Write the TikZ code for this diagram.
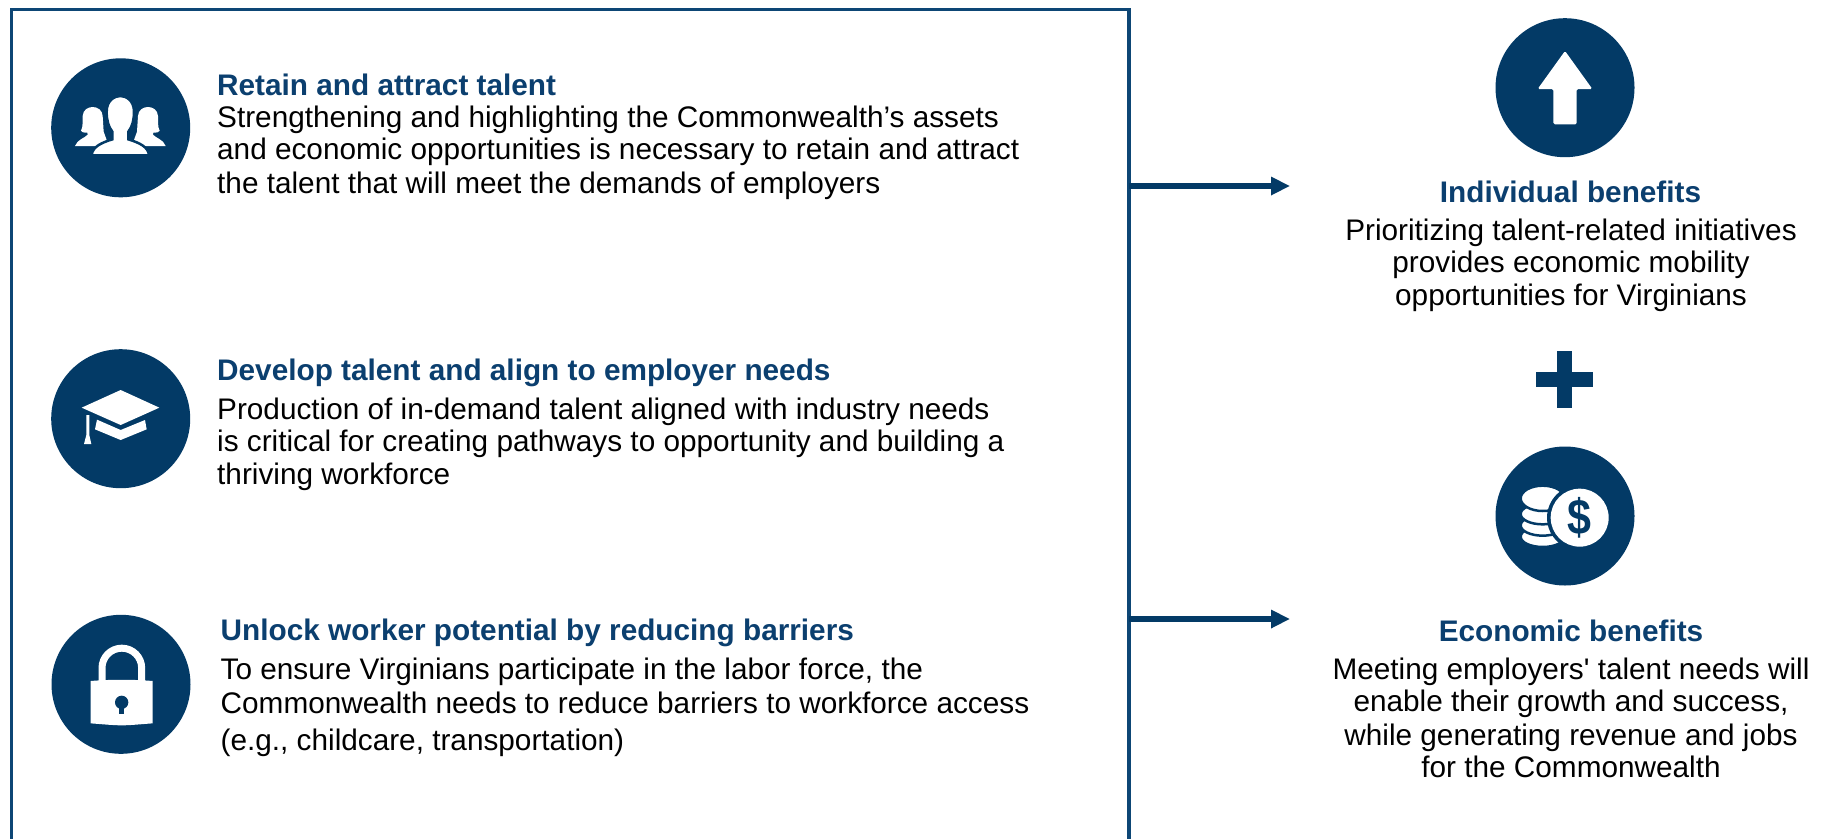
\documentclass[tikz,border=0pt]{standalone}
\usepackage{fontspec}
\newfontfamily\txt{Liberation Sans}
\definecolor{navy}{HTML}{033A66}
\definecolor{framec}{HTML}{0D4675}
\definecolor{titlec}{HTML}{0B3F6F}
\tikzset{
  x=1pt,y=-1pt,
  ic/.style={x=.33333pt,y=-.33333pt},
  disc/.style={circle,fill=navy,minimum size=139pt,inner sep=0pt},
  head/.style={anchor=base west,inner sep=0pt,font=\txt\fontsize{29.75}{33}\selectfont\bfseries,text=titlec},
  body/.style={anchor=base west,inner sep=0pt,align=left,font=\txt\fontsize{29.75}{33}\selectfont,text=black},
  headc/.style={anchor=base,inner sep=0pt,font=\txt\fontsize{29.75}{33}\selectfont\bfseries,text=titlec},
  bodyc/.style={anchor=base,inner sep=0pt,align=center,font=\txt\fontsize{29.75}{33}\selectfont,text=black},
  wire/.style={draw=navy,line width=5.5pt},
  tip/.style={fill=navy},
}
\begin{document}
\begin{tikzpicture}
\path[use as bounding box,clip] (0,0) rectangle (1827,838);
\fill[white] (0,0) rectangle (1827,838);
\node[draw=framec,line width=3.5pt,outer sep=0pt,anchor=north west,minimum width=1117.5pt,minimum height=900pt,inner sep=0pt] (frame) at (11.7,9.3) {};
\node[disc] (d1) at (120.7,127.8) {};
\node[disc] (d2) at (120.7,418.7) {};
\node[disc] (d3) at (121,684.3) {};
\node[disc] (d4) at (1565,87.7) {};
\node[disc] (d5) at (1565,516) {};
% people
\begin{scope}[ic]
\foreach \m/\o in {1/0,-1/722}{
 \begin{scope}[shift={(\o,0)},xscale=\m]
 \fill[white] (225,438) .. controls (232,418) and (255,414) .. (263,404) -- (262,398) .. controls (250,398) and (243,396) .. (243,392) .. controls (250,380) and (247,362) .. (248,348) .. controls (250,312) and (306,312) .. (308,348) -- (311,395) -- (320,420) -- (310,438) -- cycle;
 \end{scope}}
\fill[white,draw=navy,line width=2.5pt] (275,466) .. controls (277,440) and (305,428) .. (337,418) -- (337,395) .. controls (325,380) and (320,360) .. (320,335) .. controls (320,300) and (345,288) .. (361,288) .. controls (377,288) and (402,300) .. (402,335) .. controls (402,360) and (397,380) .. (385,395) -- (385,418) .. controls (417,428) and (445,440) .. (447,466) -- cycle;
\end{scope}
% cap
\begin{scope}[shift={(30,340)},ic]
\fill[white] (272,150) -- (388,203) -- (272,255) -- (155,203) -- cycle;
\fill[white] (201,239) -- (272,270) -- (345,240) -- (350,268) -- (272,300) -- (195,268) -- cycle;
\fill[white] (169,225) -- (178,225) -- (178,285) -- (184,312) -- (162,312) -- (169,285) -- cycle;
\end{scope}
% lock
\begin{scope}[shift={(30,600)},ic]
\draw[white,line width=7pt] (216,245) -- (216,204) arc[start angle=180,end angle=360,radius=59.5] -- (335,245);
\fill[white] (182,243) .. controls (240,238) and (310,238) .. (368,243) -- (368,370) .. controls (340,372) and (300,376) .. (275,376) .. controls (250,376) and (210,372) .. (182,370) -- cycle;
\fill[navy] (275,307) circle[radius=20];
\fill[navy] (268,315) rectangle (282,343);
\end{scope}
% up arrow
\begin{scope}[shift={(1480,0)},ic]
\fill[white,rounded corners=1.5pt] (255,153) -- (337,267) -- (290,267) -- (290,373) -- (220,373) -- (220,267) -- (173,267) -- cycle;
\end{scope}
% coins
\begin{scope}[shift={(1480,340)},ic]
\foreach \yy in {590,556,522}{
 \fill[white,draw=navy,line width=2.5pt] (188,\yy) ellipse[x radius=66,y radius=31];}
\fill[white,draw=navy,line width=2.5pt] (188,475) ellipse[x radius=66,y radius=38];
\fill[navy] (299,533) circle[radius=98];
\fill[white] (299,533) circle[radius=87];
\node[inner sep=0pt,xscale=.86,font=\txt\fontsize{50}{50}\selectfont\bfseries,text=navy] (dollar) at (299,533) {\$};
\end{scope}
% plus
\fill[navy] (1557.3,351) rectangle (1571.7,408);
\fill[navy] (1535.7,372.3) rectangle (1593,387);
% text
\node[head] (t1) at (217,95) {Retain and attract talent};
\node[body] (b1) at (217,193) {Strengthening and highlighting the Commonwealth’s assets\\[-1pt]and economic opportunities is necessary to retain and attract\\[1pt]the talent that will meet the demands of employers};
\node[head] (t2) at (217,380) {Develop talent and align to employer needs};
\node[body] (b2) at (217,484) {Production of in-demand talent aligned with industry needs\\[-1pt]is critical for creating pathways to opportunity and building a\\thriving workforce};
\node[head] (t3) at (220.5,640) {Unlock worker potential by reducing barriers};
\node[body] (b3) at (220.5,750) {To ensure Virginians participate in the labor force, the\\[1pt]Commonwealth needs to reduce barriers to workforce access\\[4pt](e.g., childcare, transportation)};
\node[headc] (t4) at (1570.5,202) {Individual benefits};
\node[bodyc] (b4) at (1571,305.5) {Prioritizing talent-related initiatives\\[-1pt]provides economic mobility\\opportunities for Virginians};
\node[headc] (t5) at (1571,641) {Economic benefits};
\node[bodyc] (b5) at (1571,777) {Meeting employers' talent needs will\\[-1pt]enable their growth and success,\\[1pt]while generating revenue and jobs\\[-1pt]for the Commonwealth};
% arrows
\coordinate (e1) at (1289.5,186);
\coordinate (e2) at (1289.5,619);
\foreach \e in {e1,e2}{
 \draw[wire] (frame.east |- \e) -- ([xshift=-15pt]\e);
 \fill[tip] (\e) -- ++(-18.5,-9.5) -- ++(0,19) -- cycle;
}
\end{tikzpicture}
\end{document}
